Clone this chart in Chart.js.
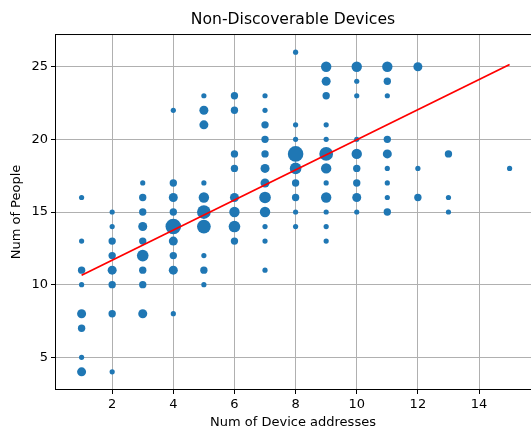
<!DOCTYPE html>
<html>
<head>
<meta charset="utf-8">
<script src="https://cdn.jsdelivr.net/npm/chart.js@4"></script>
<style>
  html, body { margin: 0; padding: 0; background: #fff; }
  #wrap { width: 531px; height: 432px; }
</style>
</head>
<body>
<div id="wrap"><canvas id="myChart" width="531" height="432"></canvas></div>
<script>
// one entry per bubble: device address count, people count, how many records
const deviceAddr = [
  1, 1, 1, 1, 1, 1, 1, 1,
  2, 2, 2, 2, 2, 2, 2, 2,
  3, 3, 3, 3, 3, 3, 3, 3, 3,
  4, 4, 4, 4, 4, 4, 4, 4, 4,
  5, 5, 5, 5, 5, 5, 5, 5, 5, 5,
  6, 6, 6, 6, 6, 6, 6, 6,
  7, 7, 7, 7, 7, 7, 7, 7, 7, 7, 7, 7,
  8, 8, 8, 8, 8, 8, 8, 8, 8,
  9, 9, 9, 9, 9, 9, 9, 9, 9, 9, 9, 9,
  10, 10, 10, 10, 10, 10, 10, 10, 10,
  11, 11, 11, 11, 11, 11, 11, 11, 11,
  12, 12, 12,
  13, 13, 13,
  15
];
const numPeople = [
  16, 13, 11, 10, 8, 7, 5, 4,
  15, 14, 13, 12, 11, 10, 8, 4,
  17, 16, 15, 14, 13, 12, 11, 10, 8,
  22, 17, 16, 15, 14, 13, 12, 11, 8,
  23, 22, 21, 17, 16, 15, 14, 12, 11, 10,
  23, 22, 19, 18, 16, 15, 14, 13,
  23, 22, 21, 20, 19, 18, 17, 16, 15, 14, 13, 11,
  26, 21, 20, 19, 18, 17, 16, 15, 14,
  25, 24, 23, 21, 20, 19, 18, 17, 16, 15, 14, 13,
  25, 24, 23, 20, 19, 18, 17, 16, 15,
  25, 24, 23, 20, 19, 18, 17, 16, 15,
  25, 18, 16,
  19, 16, 15,
  18
];
const recordCount = [
  1, 1, 2, 1, 3, 2, 1, 3,
  1, 1, 2, 2, 3, 2, 2, 1,
  1, 2, 2, 3, 2, 5, 2, 2, 3,
  1, 2, 3, 2, 9, 3, 2, 3, 1,
  1, 3, 3, 1, 4, 7, 7, 1, 2, 1,
  2, 2, 2, 2, 3, 4, 5, 2,
  1, 1, 2, 2, 2, 3, 3, 5, 4, 1, 1, 1,
  1, 1, 1, 9, 5, 2, 2, 1, 1,
  4, 3, 2, 1, 1, 7, 4, 1, 4, 1, 1, 1,
  4, 1, 1, 1, 4, 2, 2, 3, 1,
  4, 2, 1, 2, 3, 1, 1, 1, 2,
  3, 1, 2,
  2, 1, 1,
  1
];
// fitted line end points
const fitX = [1, 15];
const fitY = [10.65, 25.15];

const xTicks = [2, 4, 6, 8, 10, 12, 14];
const yTicks = [5, 10, 15, 20, 25];

const bubbles = deviceAddr.map((d, i) => ({ x: d, y: numPeople[i], r: 2.6 * Math.sqrt(recordCount[i]) }));
const fitLine = fitX.map((d, i) => ({ x: d, y: fitY[i] }));

const frame = {
  id: 'frame',
  afterDraw(chart) {
    const a = chart.chartArea;
    const ctx = chart.ctx;
    ctx.save();
    ctx.strokeStyle = '#000';
    ctx.lineWidth = 1;
    ctx.strokeRect(a.left + 0.5, a.top + 0.5, a.right - a.left, a.bottom - a.top - 1);
    ctx.restore();
  }
};

const font = { family: 'DejaVu Sans', size: 13 };

new Chart(document.getElementById('myChart').getContext('2d'), {
  type: 'bubble',
  data: {
    datasets: [
      {
        type: 'line',
        data: fitLine,
        borderColor: '#ff0000',
        borderWidth: 1.8,
        pointRadius: 0,
        fill: false,
        order: 0
      },
      {
        data: bubbles,
        backgroundColor: '#1f77b4',
        borderWidth: 0,
        order: 1
      }
    ]
  },
  plugins: [frame],
  options: {
    responsive: false,
    animation: false,
    events: [],
    layout: { padding: 0, autoPadding: false },
    plugins: {
      legend: { display: false },
      tooltip: { enabled: false },
      title: {
        display: true,
        text: 'Non-Discoverable Devices',
        fullSize: false,
        color: '#000',
        font: { family: 'DejaVu Sans', size: 15.6, weight: 'normal' },
        padding: { top: 10.6, bottom: 4.7 }
      }
    },
    scales: {
      x: {
        type: 'linear',
        min: 0.13,
        max: 15.7,
        afterBuildTicks: (s) => { s.ticks = xTicks.map(v => ({ value: v })); },
        afterFit: (s) => { s.height = 42; s.paddingLeft = 0; s.paddingRight = 0; },
        grid: { color: '#b0b0b0', lineWidth: 1, tickColor: '#000', tickLength: 4 },
        border: { display: false },
        ticks: { color: '#000', font: font, padding: 3, maxRotation: 0 },
        title: { display: true, text: 'Num of Device addresses', color: '#000', font: font, padding: { top: 0, bottom: 2 } }
      },
      y: {
        type: 'linear',
        min: 2.75,
        max: 27.25,
        afterBuildTicks: (s) => { s.ticks = yTicks.map(v => ({ value: v })); },
        afterFit: (s) => { s.width = 55; s.paddingTop = 0; s.paddingBottom = 0; },
        grid: { color: '#b0b0b0', lineWidth: 1, tickColor: '#000', tickLength: 4 },
        border: { display: false },
        ticks: { color: '#000', font: font, padding: 3 },
        title: { display: true, text: 'Num of People', color: '#000', font: font, padding: { top: 9, bottom: 0 } }
      }
    }
  }
});
</script>
</body>
</html>
